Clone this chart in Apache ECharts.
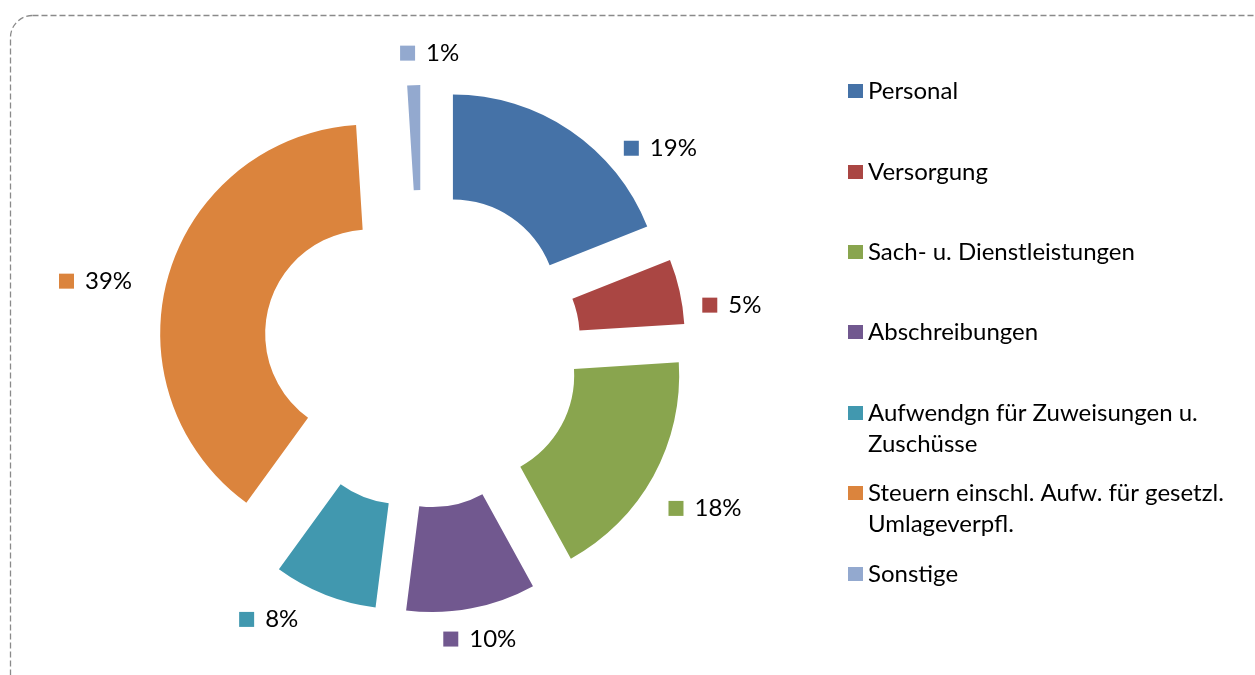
<!DOCTYPE html>
<html>
<head>
<meta charset="utf-8">
<script src="https://cdn.jsdelivr.net/npm/echarts@6/dist/echarts.min.js"></script>
<style>
  html, body { margin: 0; padding: 0; background: #fff; }
  #chart { width: 1255px; height: 675px; }
</style>
</head>
<body>
<div id="chart"></div>
<script>
// Aufwandsarten, Anteile in Prozent
const categories = ['Personal', 'Versorgung', 'Sach- u. Dienstleistungen', 'Abschreibungen',
  'Aufwendgn für Zuweisungen u. Zuschüsse', 'Steuern einschl. Aufw. für gesetzl. Umlageverpfl.', 'Sonstige'];
const shares = [19, 5, 18, 10, 8, 39, 1];
// legend text as wrapped in the original
const legendLines = [['Personal'], ['Versorgung'], ['Sach- u. Dienstleistungen'], ['Abschreibungen'],
  ['Aufwendgn für Zuweisungen u.', 'Zuschüsse'], ['Steuern einschl. Aufw. für gesetzl.', 'Umlageverpfl.'], ['Sonstige']];
const colors = ['#4572A7', '#AA4643', '#89A54E', '#71588F', '#4198AF', '#DB843D', '#93A9CF'];

const font = 'Lato, "Open Sans", sans-serif';
const fontSize = 24;
const lineH = 31;

// small shifts of the percent labels, Excel puts them a bit differently
const labelNudge = [[25, 30], [-12, 17], [-18, 25], [-51, 16], [-1, 11], [-2, 10], [66, -17]];

const chart = echarts.init(document.getElementById('chart'));

const pieData = categories.map((name, i) => ({
  name: name,
  value: shares[i],
  selected: true,
  itemStyle: { color: colors[i] },
  label: { rich: { m: { width: 15, height: 15, backgroundColor: colors[i] } } }
}));

// one legend per entry, so that the two-line entries keep the Excel spacing
const legendCenters = [91, 172, 252, 332, 413, 493, 574];
const legends = categories.map((name, i) => {
  const lines = legendLines[i];
  const text = lines.length > 1 ? '\n' + lines.join('\n') : lines[0];
  const half = lines.length > 1 ? 1.5 * lineH : 0.5 * lineH;
  return {
    data: [name],
    orient: 'vertical',
    left: 848,
    top: legendCenters[i] - half,
    padding: 0,
    itemWidth: 15,
    itemHeight: 14,
    itemGap: 0,
    icon: 'rect',
    selectedMode: false,
    formatter: () => text,
    textStyle: { fontFamily: font, fontSize: fontSize, lineHeight: lineH, color: '#000' }
  };
});

const option = {
  animation: false,
  color: colors,
  graphic: [{
    type: 'rect',
    shape: { x: 10.5, y: 15.5, width: 1280, height: 700, r: 22 },
    style: { fill: 'none', stroke: '#8a8a8a', lineWidth: 1.3, lineDash: [6, 3] },
    silent: true
  }],
  legend: legends,
  series: [{
    type: 'pie',
    center: [422, 349],
    radius: [104, 209],
    startAngle: 90,
    clockwise: true,
    selectedMode: 'multiple',
    selectedOffset: 55,
    avoidLabelOverlap: false,
    percentPrecision: 0,
    itemStyle: { borderWidth: 0 },
    emphasis: { disabled: true },
    label: {
      show: true,
      position: 'outside',
      formatter: '{m|}{t|{d}%}',
      rich: {
        t: { fontFamily: font, fontSize: fontSize, color: '#000', padding: [0, 0, 0, 11] }
      }
    },
    labelLine: { show: false, length: 15, length2: 15 },
    labelLayout: (params) => ({
      dx: labelNudge[params.dataIndex][0],
      dy: labelNudge[params.dataIndex][1]
    }),
    data: pieData
  }]
};

chart.setOption(option);
</script>
</body>
</html>
